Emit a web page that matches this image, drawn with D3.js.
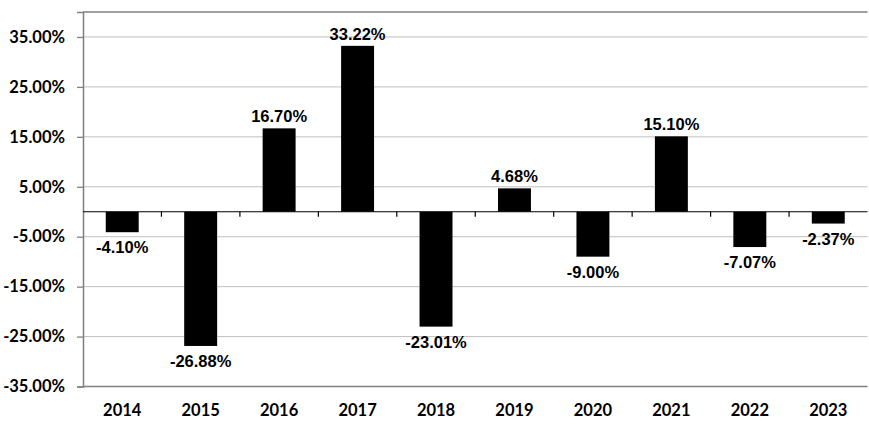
<!DOCTYPE html>
<html><head><meta charset="utf-8">
<script src="https://cdn.jsdelivr.net/npm/d3@7"></script>
<style>body{margin:0;background:#fff}svg{display:block}</style>
</head><body><svg id="c" width="869" height="429"></svg>
<script>
const years = ["2014","2015","2016","2017","2018","2019","2020","2021","2022","2023"];
const returns = [-4.10, -26.88, 16.70, 33.22, -23.01, 4.68, -9.00, 15.10, -7.07, -2.37];
const yTicks = [35, 25, 15, 5, -5, -15, -25, -35];

const svg = d3.select("#c");
const L = 83, R = 867.5, T = 12, B = 386.5;
const x = d3.scaleBand().domain(years).range([L, R]).paddingInner(0.58).paddingOuter(0.29);
const xb = d3.scaleBand().domain(years).range([L, R]);
const y = d3.scaleLinear().domain([-35, 40]).range([B, T]);

// gridlines
svg.append("g").selectAll("line").data(yTicks.filter(d => d !== -35)).join("line")
  .attr("x1", L).attr("x2", R).attr("y1", d => y(d)).attr("y2", d => y(d))
  .attr("stroke", "#c0c0c0").attr("stroke-width", 1);
// top border
svg.append("line").attr("x1", L).attr("x2", R).attr("y1", y(40)).attr("y2", y(40))
  .attr("stroke", "#808080").attr("stroke-width", 1.3);

// y axis
const yAxis = d3.axisLeft(y).tickValues(yTicks).tickSize(6).tickPadding(12)
  .tickFormat(d => d.toFixed(2) + "%");
const ya = svg.append("g").attr("transform", `translate(${L},0)`).call(yAxis);
ya.select(".domain").attr("stroke", "#808080").attr("stroke-width", 1.5);
ya.selectAll(".tick line").attr("stroke", "#808080").attr("stroke-width", 1.3);
ya.selectAll("text").attr("font-family", "Lato, sans-serif").attr("font-weight", "bold")
  .attr("font-size", "16.5px").attr("fill", "#000");

// bottom line
svg.append("line").attr("x1", L).attr("x2", R).attr("y1", B).attr("y2", B)
  .attr("stroke", "#808080").attr("stroke-width", 1.5);

// bars
svg.append("g").selectAll("rect").data(years).join("rect")
  .attr("x", (d) => x(d)).attr("width", x.bandwidth())
  .attr("y", (d, i) => y(Math.max(0, returns[i])))
  .attr("height", (d, i) => Math.abs(y(returns[i]) - y(0)))
  .attr("fill", "#000");

// zero axis with ticks at category boundaries
const za = svg.append("g").attr("transform", `translate(0,${y(0)})`);
za.append("line").attr("x1", L).attr("x2", R).attr("stroke", "#000").attr("stroke-width", 1.2);
za.selectAll("line.t").data(years.slice(1)).join("line").attr("class", "t")
  .attr("x1", d => xb(d)).attr("x2", d => xb(d)).attr("y1", 0).attr("y2", 5)
  .attr("stroke", "#000").attr("stroke-width", 1.2);

// data labels
svg.append("g").selectAll("text").data(years).join("text")
  .attr("x", d => xb(d) + xb.bandwidth() / 2)
  .attr("y", (d, i) => returns[i] >= 0 ? y(returns[i]) - 6 : y(returns[i]) + 21)
  .attr("text-anchor", "middle")
  .attr("font-family", "Liberation Sans, Arial, sans-serif").attr("font-weight", "bold")
  .attr("font-size", "16.5px").attr("fill", "#000")
  .text((d, i) => returns[i].toFixed(2) + "%");

// x labels
svg.append("g").selectAll("text").data(years).join("text")
  .attr("x", d => xb(d) + xb.bandwidth() / 2).attr("y", 416)
  .attr("text-anchor", "middle")
  .attr("font-family", "Lato, sans-serif").attr("font-weight", "bold")
  .attr("font-size", "16.5px").attr("fill", "#000")
  .text(d => d);
</script></body></html>
